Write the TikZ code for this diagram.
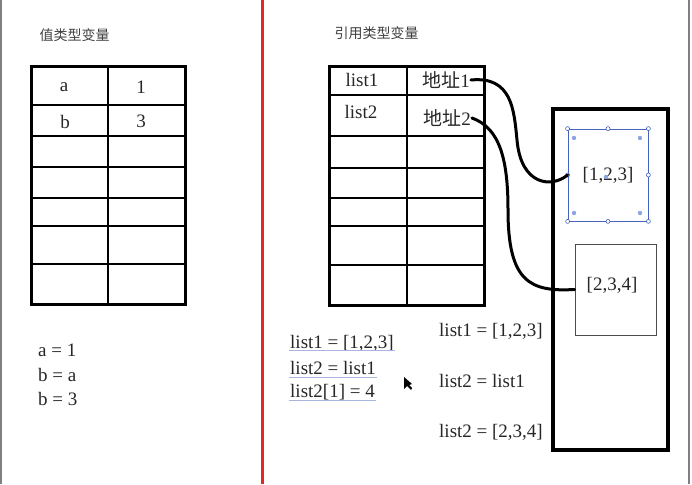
\documentclass[tikz,border=0pt]{standalone}
\usepackage{fontspec}
\setmainfont{Liberation Serif}
\newfontfamily\cjk{Noto Sans CJK SC}
\definecolor{handle}{RGB}{70,100,190}
\definecolor{dotblue}{RGB}{140,165,225}
\definecolor{redline}{RGB}{228,40,30}
\definecolor{inkblue}{RGB}{170,180,225}
\tikzset{
  txt/.style={font=\fontsize{19}{21}\selectfont, inner sep=1pt, text=black!85},
  code/.style={txt, anchor=west},
  title/.style={font=\cjk\fontsize{14}{16}\selectfont, anchor=west, text=black!75},
  frame/.style={line width=3pt},
  rule/.style={line width=1.2pt},
  link/.style={line width=3pt, line cap=round},
  hnd/.style={circle, draw=handle, fill=white, inner sep=0pt, minimum size=4pt, line width=0.6pt},
}
\begin{document}
\begin{tikzpicture}[x=1pt, y=-1pt]
  \useasboundingbox (0,0) rectangle (692,484);
  \draw[gray, line width=1.5pt] (1,0) -- (1,484) (689,0) -- (689,484);
  \draw[redline, line width=3pt] (262,0) -- (262,484);
  % value types
  \node[title] (vtitle) at (36,35) {值类型变量};
  \draw[frame] (31,67) rectangle (185,304);
  \draw[rule] (108,67) -- (108,304);
  \foreach \y in {105,136,167,198,226,264}
    \draw[rule] (31,\y) -- (185,\y);
  \draw
    (64,87) node[txt] (a) {a}
    (141,87) node[txt] (one) {1}
    (65,122) node[txt] (b) {b}
    (141,121) node[txt] (three) {3};
  \node[code] (va) at (37,350) {a = 1};
  \node[code] (vb) at (37,375) {b = a};
  \node[code] (vc) at (37,399) {b = 3};
  % reference types
  \node[title] (rtitle) at (331,33) {引用类型变量};
  \draw[frame] (329,67) rectangle (484,305);
  \draw[rule] (407,67) -- (407,305);
  \foreach \y in {95,136,168,198,226,265}
    \draw[rule] (329,\y) -- (484,\y);
  \draw
    (362,80) node[txt] (list1) {list1}
    (446,80) node[txt] (addr1) {{\cjk 地址}1}
    (361,112) node[txt] (list2) {list2}
    (447,118) node[txt] (addr2) {{\cjk 地址}2};
  \node[draw, line width=4pt, minimum width=115pt, minimum height=341pt] (heap) at (610.5,279.5) {};
  \node[draw=handle, line width=0.8pt, minimum width=80pt, minimum height=92pt, txt] (set1) at (608,175) {[1,2,3]};
  \foreach \a in {north west,north,north east,east,south east,south,south west,west}
    \node[hnd] at (set1.\a) {};
  \foreach \p in {(574,138),(640,138),(574,213),(640,213),(606,177)}
    \fill[dotblue] \p circle (2.2pt);
  \node[draw=black!70, line width=1pt, minimum width=81pt, minimum height=91pt] (set2) at (615.5,289.5) {};
  \node[txt] (val2) at (612,285) {[2,3,4]};
  \begin{scope}[link]
    \draw (addr1.east) .. controls (512,76) and (514,110) .. (517,140)
      .. controls (521,186) and (552,188) .. (set1.west);
    \draw (addr2.east) .. controls (500,128) and (508,160) .. (508,210)
      .. controls (508,282) and (530,292) .. (set2.west);
  \end{scope}
  \node[code] (c1) at (289,343) {list1 = [1,2,3]};
  \node[code] (c2) at (289,368) {list2 = list1};
  \node[code] (c3) at (289,392) {list2[1] = 4};
  \foreach \c in {c1,c2,c3}
    \draw[inkblue, line width=0.5pt] ([yshift=-2.5pt]\c.base west) -- ([yshift=-2.5pt]\c.base east);
  \fill (404,377) -- (404,389) -- (407,386) -- (411,390) -- (412,388) -- (409,385) -- (412,384) -- cycle;
  \node[code] (s1) at (438,331) {list1 = [1,2,3]};
  \node[code] (s2) at (438,381) {list2 = list1};
  \node[code] (s3) at (438,432) {list2 = [2,3,4]};
\end{tikzpicture}
\end{document}
